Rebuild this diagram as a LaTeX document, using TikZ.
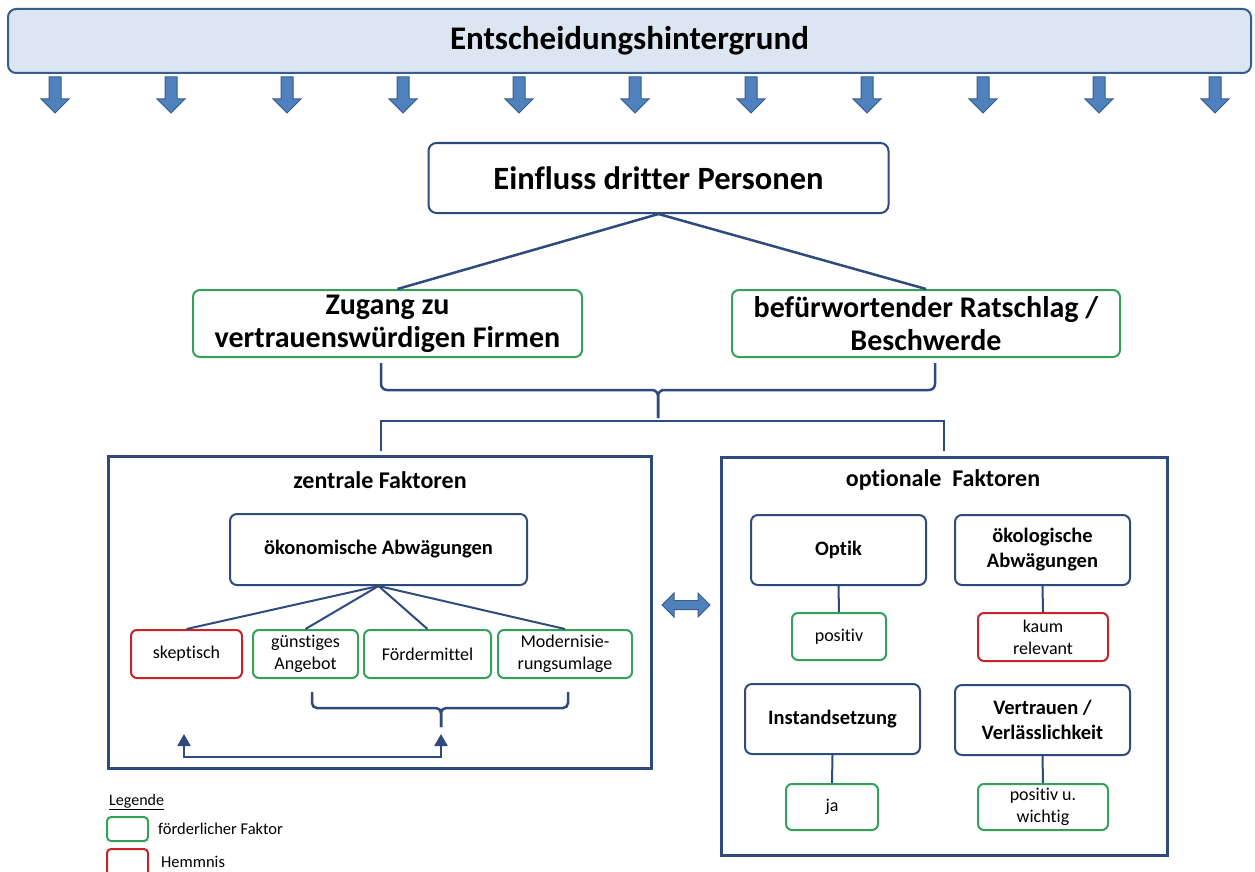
\documentclass[tikz,border=0pt]{standalone}
\usepackage{fontspec}
\setmainfont[Ligatures=NoCommon]{Carlito}
\usetikzlibrary{arrows.meta}
\definecolor{navy}{RGB}{47,75,125}
\definecolor{gbox}{RGB}{52,160,90}
\definecolor{rbox}{RGB}{200,35,40}
\definecolor{barfill}{RGB}{220,230,242}
\definecolor{bardraw}{RGB}{56,93,138}
\definecolor{arrfill}{RGB}{79,129,189}
\begin{document}
\begin{tikzpicture}[x=1pt,y=-1pt,
 every node/.style={inner sep=0pt, align=center},
 nbox/.style={draw=navy, line width=2pt, rounded corners=7pt, fill=white, font=\bfseries\fontsize{20.5}{25}\selectfont},
 gbx/.style={draw=gbox, line width=2pt, rounded corners=6pt, fill=white, font=\fontsize{18}{22}\selectfont},
 rbx/.style={gbx, draw=rbox},
 topgreen/.style={gbx, rounded corners=7pt, font=\bfseries\fontsize{30}{33}\selectfont},
 bigframe/.style={draw=navy, line width=3pt},
 conn/.style={draw=navy, line width=2.5pt},
 blockarrow/.style={fill=arrfill, draw=bardraw, line width=1pt},
 titletext/.style={font=\bfseries\fontsize{24}{28}\selectfont},
 legtext/.style={anchor=west, font=\fontsize{16.5}{20}\selectfont},
]
\useasboundingbox (0,0) rectangle (1255,872);
\fill[white] (0,0) rectangle (1255,872);

% top bar
\node[draw=bardraw, fill=barfill, line width=2pt, rounded corners=8pt,
      minimum width=1243pt, minimum height=64pt,
      font=\bfseries\fontsize{33}{38}\selectfont] (bg) at (629.5,41) {Entscheidungshintergrund};

% down arrows
\foreach \i in {0,...,10}{
  \pgfmathsetmacro\cx{55+116*\i}
  \path[blockarrow] (\cx-6,77) -- (\cx+6,77) -- (\cx+6,99) -- (\cx+14,99) -- (\cx,113) -- (\cx-14,99) -- (\cx-6,99) -- cycle;
}

% Einfluss box
\node[nbox, rounded corners=8pt, minimum width=460pt, minimum height=70pt,
      font=\bfseries\fontsize{32.5}{36}\selectfont] (ein) at (658.5,178) {Einfluss dritter Personen};

\node[topgreen, minimum width=389pt, minimum height=67pt] (z1) at (387.5,323.5) {Zugang zu\\vertrauenswürdigen Firmen};
\node[topgreen, minimum width=388pt, minimum height=67pt] (z2) at (926,323.5) {befürwortender Ratschlag /\\Beschwerde};

\draw[conn] (ein.south) -- ([xshift=10pt]z1.north);
\draw[conn] (ein.south) -- (z2.north);

% brace under green boxes
\coordinate (b1) at (381,363);
\coordinate (b2) at (935,363);
\coordinate (btip) at (658,418);
\draw[conn, rounded corners=6pt] (b1) -- (381,390) -- (658,390) -- (btip);
\draw[conn, rounded corners=6pt] (b2) -- (935,390) -- (658,390) -- (btip);

% big frames
\node[bigframe, minimum width=543pt, minimum height=312pt] (lf) at (379.5,612) {};
\node[bigframe, minimum width=446pt, minimum height=398pt] (rf) at (944,656.5) {};

% bracket to frames
\coordinate (k1) at (381,451);
\coordinate (k2) at (944,451);
\draw[conn] (k1) -- (381,421) -- (944,421) -- (k2);

% left content
\node[titletext] (lt) at (380,480) {zentrale Faktoren};
\node[nbox, minimum width=297pt, minimum height=71pt] (oek) at (378.5,549.5) {ökonomische Abwägungen};
\node[rbx, minimum width=111pt, minimum height=48pt] (sk) at (186.5,654) {skeptisch};
\node[gbx, minimum width=105pt, minimum height=48pt] (gu) at (305.5,654) {günstiges\\Angebot};
\node[gbx, minimum width=127pt, minimum height=48pt] (fo) at (427.5,654) {Fördermittel};
\node[gbx, minimum width=134pt, minimum height=48pt] (mo) at (565,654) {Modernisie-\\rungsumlage};
\foreach \t in {sk,gu,fo,mo}{\draw[conn, line width=2pt] (oek.south) -- (\t.north);}

% brace under small boxes
\coordinate (c1) at (312,692);
\coordinate (c2) at (568,692);
\coordinate (ctip) at (441,727);
\draw[conn, rounded corners=5pt] (c1) -- (312,708) -- (441,708) -- (ctip);
\draw[conn, rounded corners=5pt] (c2) -- (568,708) -- (441,708) -- (ctip);

% return arrows
\coordinate (r1) at (184,734);
\coordinate (r2) at (441,734);
\draw[conn, {Triangle[width=13pt,length=12pt]}-{Triangle[width=13pt,length=12pt]}] (r1) -- (184,757) -- (441,757) -- (r2);

% double arrow
\path[blockarrow] (662,605) -- (674,593) -- (674,600.5) -- (698,600.5) -- (698,593) -- (710,605)
   -- (698,617) -- (698,609.5) -- (674,609.5) -- (674,617) -- cycle;

% right content
\node[titletext] (rt) at (943,480) {optionale\ \ Faktoren};
\node[nbox, minimum width=175pt, minimum height=70pt] (opt) at (838.5,550) {Optik};
\node[nbox, minimum width=175pt, minimum height=70pt] (oko) at (1042.5,550) {ökologische\\Abwägungen};
\node[nbox, minimum width=175pt, minimum height=70pt] (ins) at (832.5,719) {Instandsetzung};
\node[nbox, minimum width=175pt, minimum height=70pt] (ver) at (1042.5,720) {Vertrauen /\\Verlässlichkeit};
\node[gbx, minimum width=94pt, minimum height=47pt] (pos) at (839,636.5) {positiv};
\node[rbx, minimum width=130pt, minimum height=48pt] (kau) at (1043,637) {kaum\\relevant};
\node[gbx, minimum width=92pt, minimum height=46pt] (ja) at (832,807) {ja};
\node[gbx, minimum width=130pt, minimum height=46pt] (pw) at (1043,807) {positiv u.\\wichtig};
\draw[conn, line width=2pt] (opt.south) -- (pos.north);
\draw[conn, line width=2pt] (oko.south) -- (kau.north);
\draw[conn, line width=2pt] (ins.south) -- (ja.north);
\draw[conn, line width=2pt] (ver.south) -- (pw.north);

% legend
\node[anchor=west, font=\fontsize{16}{19}\selectfont] (leg) at (109,802) {\underline{Legende}};
\node[gbx, rounded corners=4pt, minimum width=41pt, minimum height=24pt] (lg) at (127.5,829) {};
\node[legtext] (lgt) at (158,829) {förderlicher Faktor};
\node[rbx, rounded corners=4pt, minimum width=41pt, minimum height=28pt] (lr) at (127.5,863) {};
\node[legtext] (lrt) at (161,862) {Hemmnis};
\end{tikzpicture}
\end{document}
